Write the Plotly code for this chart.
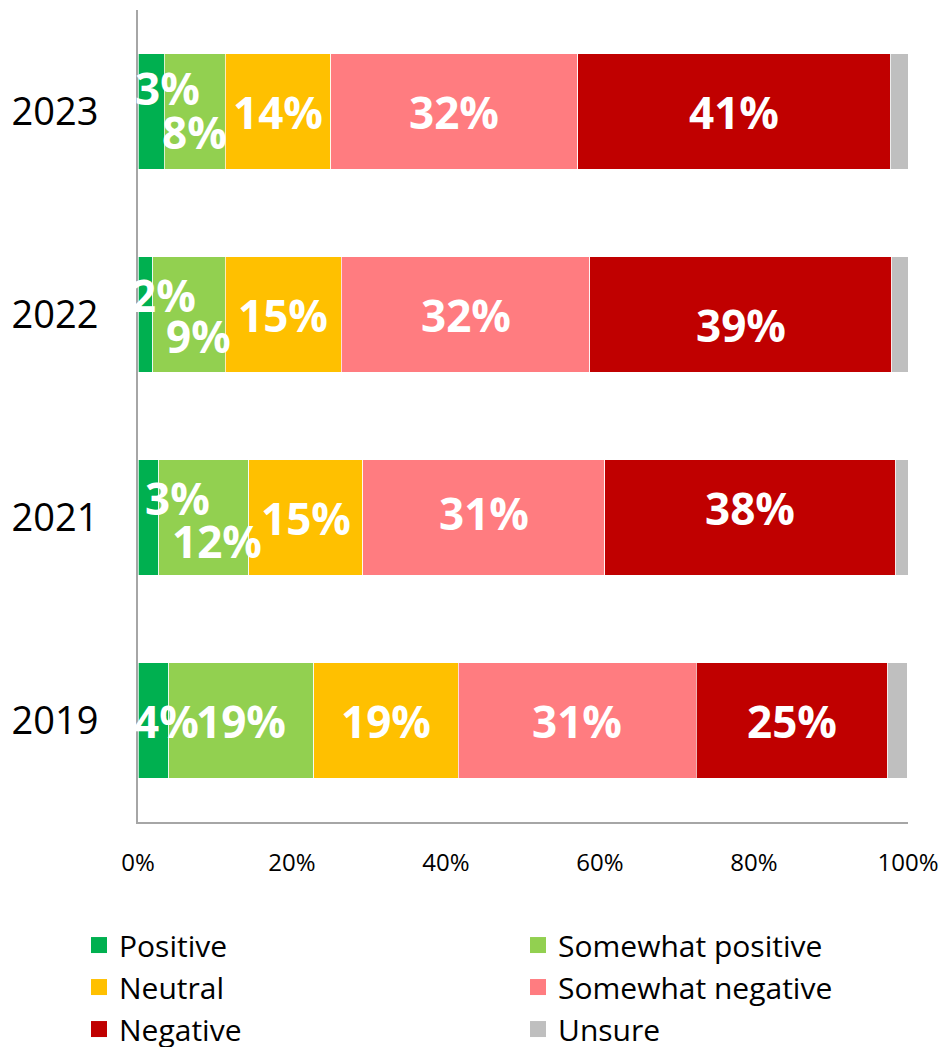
import plotly.graph_objects as go

# Anteile je Jahr (in %), von unten nach oben
years = ["2019", "2021", "2022", "2023"]
positive = [4.0, 2.7, 1.9, 3.4]
somewhat_positive = [18.8, 11.7, 9.4, 7.9]
neutral = [18.8, 14.8, 15.1, 13.7]
somewhat_negative = [30.9, 31.4, 32.3, 32.1]
negative = [24.9, 37.8, 39.2, 40.6]
unsure = [2.5, 1.6, 2.1, 2.3]

x_ticks = [0, 20, 40, 60, 80, 100]

series_names = ["Positive", "Somewhat positive", "Neutral",
                "Somewhat negative", "Negative", "Unsure"]
series_values = [positive, somewhat_positive, neutral,
                 somewhat_negative, negative, unsure]
colors = ["#00B050", "#92D050", "#FFC000", "#FF7C80", "#C00000", "#BFBFBF"]

# kleine Verschiebungen der Beschriftungen, damit sie sich nicht überlappen (xshift, yshift)
label_nudge = {
    ("2023", 0): (16, 24), ("2023", 1): (0, -20),
    ("2022", 0): (18, 20), ("2022", 1): (10, -21), ("2022", 4): (0, -10),
    ("2021", 0): (29, 20), ("2021", 1): (13, -23), ("2021", 3): (0, 5), ("2021", 4): (0, 10),
    ("2019", 0): (13, 0),
}

FONT = "Open Sans"

fig = go.Figure()

for name, values, color in zip(series_names, series_values, colors):
    fig.add_trace(go.Bar(y=years, x=values, orientation="h", name=name,
                         marker=dict(color=color, line=dict(color="rgba(255,255,255,0.7)", width=1)),
                         showlegend=False))

# Legende mit grösseren Quadraten
for name, color in zip(series_names, colors):
    fig.add_trace(go.Scatter(x=[None], y=[None], mode="markers", name=name,
                             marker=dict(symbol="square", size=20, color=color)))

# Prozentwerte als Beschriftung (ohne "Unsure"); y als Kategorie-Index,
# da "2019" sonst als Zahl gelesen wird
annotations = []
for i, year in enumerate(years):
    left = 0
    for k, values in enumerate(series_values):
        v = values[i]
        if k < 5:
            dx, dy = label_nudge.get((year, k), (0, 0))
            annotations.append(dict(x=left + v / 2, y=i, text=f"<b>{v:.0f}%</b>",
                                    showarrow=False, xshift=dx, yshift=dy,
                                    font=dict(family=FONT, size=44, color="white")))
        left += v

# die Seite hat 8px Rand (body), daher Ränder entsprechend kleiner
fig.update_layout(
    barmode="stack",
    bargap=0.43,
    width=950, height=1047,
    margin=dict(l=130, r=50, t=2, b=233, autoexpand=False),
    plot_bgcolor="white", paper_bgcolor="white",
    font=dict(family=FONT, color="black"),
    annotations=annotations,
    xaxis=dict(type="linear", range=[0, 100], tickmode="array", tickvals=x_ticks,
               ticktext=[f"{t}%" for t in x_ticks],
               showgrid=False, zeroline=False, showline=True, linecolor="#A6A6A6", linewidth=2,
               tickfont=dict(size=24), ticklabelstandoff=18, automargin=False),
    yaxis=dict(type="category", categoryarray=years, categoryorder="array", range=[-0.5, 3.5],
               showgrid=False, zeroline=False, showline=True, linecolor="#A6A6A6", linewidth=2,
               tickfont=dict(size=38), ticklabelstandoff=30, automargin=False),
    legend=dict(orientation="h", traceorder="normal",
                x=-0.0766, xanchor="left", y=-0.1195, yanchor="top",
                entrywidth=394, entrywidthmode="pixels",
                font=dict(size=30)),
)

fig.write_html("out.html")
